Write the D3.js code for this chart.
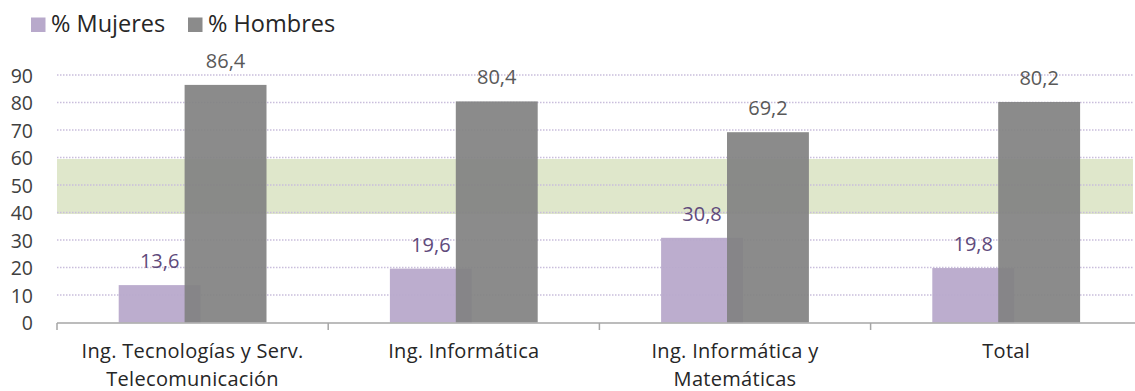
<!DOCTYPE html>
<html><head><meta charset="utf-8">
<script src="https://cdn.jsdelivr.net/npm/d3@7"></script>
<style>
html,body{margin:0;padding:0;background:#fff;}
text{font-family:"Open Sans",Lato,sans-serif;}
</style></head>
<body>
<svg id="chart" width="1135" height="391"></svg>
<script>
const categories = [
  ["Ing. Tecnologías y Serv.", "Telecomunicación"],
  ["Ing. Informática"],
  ["Ing. Informática y", "Matemáticas"],
  ["Total"]
];
const seriesNames = ["% Mujeres", "% Hombres"];
const mujeres = [13.6, 19.6, 30.8, 19.8];
const hombres = [86.4, 80.4, 69.2, 80.2];
const yTicks = [0, 10, 20, 30, 40, 50, 60, 70, 80, 90];
const bandRange = [40, 60];

const colors = {mujeres: "#b8a9cb", hombres: "#828282"};
const svg = d3.select("#chart");

const left = 57, bandW = 271.2;
const x = d3.scaleBand().domain(d3.range(categories.length)).range([left, left + bandW * categories.length]).paddingInner(0).paddingOuter(0);
const y = d3.scaleLinear().domain([0, 90]).range([322.5, 75]);
const gridRight = 1133;

// green reference band
svg.append("rect")
  .attr("x", left).attr("width", gridRight - left)
  .attr("y", y(bandRange[1]) + 1.5).attr("height", y(bandRange[0]) - y(bandRange[1]))
  .attr("fill", "#dfe7cb");

// grid lines
svg.append("g").selectAll("line").data(yTicks.filter(d => d > 0)).join("line")
  .attr("x1", left).attr("x2", gridRight)
  .attr("y1", d => y(d)).attr("y2", d => y(d))
  .attr("stroke", "#c9bedc").attr("stroke-width", 1.5).attr("stroke-dasharray", "1.5,1.5");

// y axis labels
const yAxis = d3.axisLeft(y).tickValues(yTicks).tickSize(0).tickPadding(0);
const yg = svg.append("g").attr("transform", `translate(33,0)`).call(yAxis);
yg.select(".domain").remove();
yg.selectAll("text").attr("font-family", "'Open Sans', sans-serif").attr("font-size", "19.5px").attr("fill", "#404040").attr("dy", "0.36em");

// bars
const bw = bandW * 0.302, ov = 16;
const mx = i => x(i) + x.bandwidth() / 2 - bw + ov / 2;
const hx = i => x(i) + x.bandwidth() / 2 - ov / 2;

svg.append("g").selectAll("rect").data(mujeres).join("rect")
  .attr("x", (d, i) => mx(i)).attr("width", bw)
  .attr("y", d => y(d)).attr("height", d => y(0) - y(d))
  .attr("fill", colors.mujeres).attr("fill-opacity", 0.95);
svg.append("g").selectAll("rect").data(hombres).join("rect")
  .attr("x", (d, i) => hx(i)).attr("width", bw)
  .attr("y", d => y(d)).attr("height", d => y(0) - y(d))
  .attr("fill", colors.hombres).attr("fill-opacity", 0.93);

// value labels
const fmt = d => d.toFixed(1).replace(".", ",");
svg.append("g").selectAll("text").data(mujeres).join("text")
  .attr("x", (d, i) => mx(i) + bw / 2).attr("y", d => y(d) - 17)
  .attr("text-anchor", "middle").attr("font-size", "20px").attr("fill", "#604a7b")
  .text(fmt);
svg.append("g").selectAll("text").data(hombres).join("text")
  .attr("x", (d, i) => hx(i) + bw / 2).attr("y", d => y(d) - 17)
  .attr("text-anchor", "middle").attr("font-size", "20px").attr("fill", "#595959")
  .text(fmt);

// x axis
const xAxisY = 323;
svg.append("line").attr("x1", left).attr("x2", 1135).attr("y1", xAxisY).attr("y2", xAxisY)
  .attr("stroke", "#a6a6a6").attr("stroke-width", 1.5);
svg.append("g").selectAll("line").data(d3.range(categories.length)).join("line")
  .attr("x1", i => x(i)).attr("x2", i => x(i))
  .attr("y1", xAxisY).attr("y2", xAxisY + 7)
  .attr("stroke", "#a6a6a6").attr("stroke-width", 1.5);

// category labels
const cg = svg.append("g").selectAll("text").data(categories).join("text")
  .attr("text-anchor", "middle").attr("font-size", "20px").attr("letter-spacing", "0.3px").attr("fill", "#262626")
  .attr("transform", (d, i) => `translate(${x(i) + x.bandwidth() / 2},0)`);
cg.selectAll("tspan").data(d => d).join("tspan")
  .attr("x", 0).attr("y", (d, j) => 358 + j * 27.5).text(d => d);

// legend
const legend = svg.append("g");
const legItems = [{name: seriesNames[0], c: colors.mujeres, x: 31}, {name: seriesNames[1], c: colors.hombres, x: 188}];
legend.selectAll("rect").data(legItems).join("rect")
  .attr("x", d => d.x).attr("y", 17.5).attr("width", 14.5).attr("height", 14.5)
  .attr("fill", d => d.c).attr("fill-opacity", d => d.c === colors.hombres ? 0.93 : 1);
legend.selectAll("text").data(legItems).join("text")
  .attr("x", d => d.x + 20).attr("y", 32).attr("font-size", "23.5px").attr("fill", "#262626")
  .text(d => d.name);
</script>
</body></html>
